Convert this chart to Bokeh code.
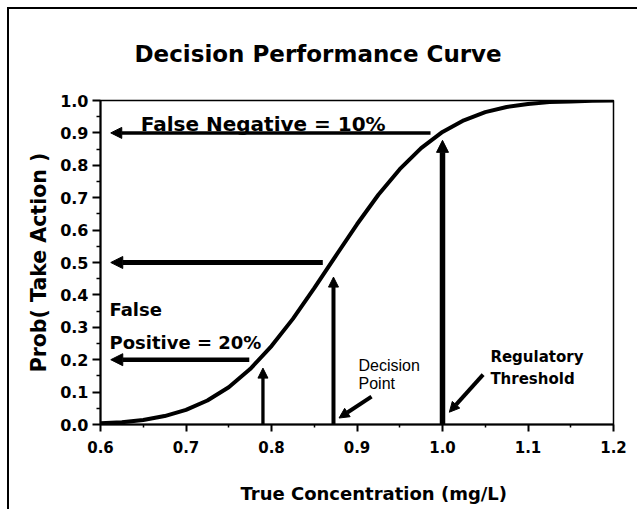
from bokeh.plotting import figure
from bokeh.layouts import column
from bokeh.models import Range1d, Arrow, NormalHead, FixedTicker, PrintfTickFormatter, Title, Label
from bokeh.embed import file_html
from bokeh.resources import INLINE

# ---- data ----
x_conc = [0.600, 0.625, 0.650, 0.675, 0.700, 0.725, 0.750, 0.775, 0.800, 0.825,
          0.850, 0.875, 0.900, 0.925, 0.950, 0.975, 1.000, 1.025, 1.050, 1.075,
          1.100, 1.125, 1.150, 1.175, 1.200]
p_action = [0.004, 0.007, 0.014, 0.026, 0.045, 0.074, 0.115, 0.171, 0.242, 0.326,
            0.421, 0.520, 0.618, 0.709, 0.788, 0.853, 0.903, 0.939, 0.964, 0.980,
            0.989, 0.995, 0.997, 0.999, 1.000]

x_major = [0.6, 0.7, 0.8, 0.9, 1.0, 1.1, 1.2]
x_minor = [0.65, 0.75, 0.85, 0.95, 1.05, 1.15]
y_major = [0.0, 0.1, 0.2, 0.3, 0.4, 0.5, 0.6, 0.7, 0.8, 0.9, 1.0]
y_minor = [0.05, 0.15, 0.25, 0.35, 0.45, 0.55, 0.65, 0.75, 0.85, 0.95]

fn_level = 0.9          # false negative probability at threshold
dp_level = 0.5          # probability at decision point
fp_level = 0.2          # false positive probability
fp_conc = 0.79          # concentration where P = 0.2
decision_point = 0.8725
regulatory_threshold = 1.0

FONT = "DejaVu Sans"

p = figure(frame_width=513, frame_height=324, x_range=Range1d(0.6, 1.2), y_range=Range1d(0, 1),
           output_backend="svg", toolbar_location=None,
           min_border_left=91, min_border_right=24, min_border_top=91, min_border_bottom=85)
p.grid.visible = False
p.outline_line_color = "black"
p.outline_line_width = 1.5
p.background_fill_color = "white"
p.border_fill_color = "white"

p.title = Title(text="Decision Performance Curve", align="left", offset=34, standoff=63,
                vertical_align="top",
                text_font=FONT, text_font_size="23px", text_font_style="bold", text_color="black")

p.xaxis[0].ticker = FixedTicker(ticks=x_major, minor_ticks=x_minor)
p.yaxis[0].ticker = FixedTicker(ticks=y_major, minor_ticks=y_minor)
for ax in (p.xaxis[0], p.yaxis[0]):
    ax.formatter = PrintfTickFormatter(format="%.1f")
    ax.axis_line_width = 2
    ax.axis_line_color = "black"
    ax.major_tick_line_width = 2
    ax.minor_tick_line_width = 1.5
    ax.major_tick_in = 0
    ax.minor_tick_in = 0
    ax.major_label_text_font = FONT
    ax.major_label_text_font_style = "bold"
    ax.major_label_text_color = "black"
    ax.major_tick_line_color = "black"
    ax.minor_tick_line_color = "black"

p.xaxis[0].major_tick_out = 7
p.xaxis[0].minor_tick_out = 3
p.xaxis[0].major_label_text_font_size = "15px"
p.xaxis[0].major_label_standoff = 9
p.yaxis[0].major_tick_out = 8
p.yaxis[0].minor_tick_out = 4
p.yaxis[0].major_label_text_font_size = "16px"
p.yaxis[0].major_label_standoff = 4
p.yaxis[0].axis_label = "Prob( Take Action )"
p.yaxis[0].axis_label_text_font = FONT
p.yaxis[0].axis_label_text_font_size = "20.5px"
p.yaxis[0].axis_label_text_font_style = "bold"
p.yaxis[0].axis_label_text_color = "black"
p.yaxis[0].axis_label_standoff = 6

p.add_layout(Title(text="True Concentration (mg/L)", align="left", offset=140, standoff=50,
                   vertical_align="bottom",
                   text_font=FONT, text_font_size="18px", text_font_style="bold",
                   text_color="black"), "below")

# curve
p.line(x_conc, p_action, line_width=4, color="black")

def arrow(xs, ys, xe, ye, lw, hs):
    p.add_layout(Arrow(end=NormalHead(size=hs, fill_color="black", line_color="black", line_width=1),
                       x_start=xs, y_start=ys, x_end=xe, y_end=ye,
                       line_width=lw, line_color="black"))

# horizontal arrows to the y axis
arrow(0.986, fn_level, 0.612, fn_level, 3.5, 11)
arrow(0.860, dp_level, 0.612, dp_level, 5, 12)
arrow(0.774, fp_level, 0.612, fp_level, 4.5, 12)
# vertical arrows up to the curve
arrow(fp_conc, -0.083, fp_conc, 0.174, 3.3, 10)
arrow(decision_point, -0.025, decision_point, 0.455, 4, 10)
arrow(regulatory_threshold, -0.02, regulatory_threshold, 0.877, 5.5, 12)
# diagonal pointers
arrow(0.917, 0.086, 0.879, 0.020, 4, 10)
arrow(1.0475, 0.154, 1.008, 0.038, 4, 10)

def label(x, y, text, size, bold=True, font=FONT):
    p.add_layout(Label(x=x, y=y, text=text, text_font=font, text_font_size=size,
                       text_font_style="bold" if bold else "normal", text_color="black",
                       text_align="left", text_baseline="alphabetic"))

label(0.647, 0.929, "False Negative = 10%", "20px")
label(0.6105, 0.355, "False", "18px")
label(0.6105, 0.253, "Positive = 20%", "18px")
label(0.9018, 0.182, "Decision", "16px", bold=False, font="Liberation Sans")
label(0.9018, 0.1265, "Point", "16px", bold=False, font="Liberation Sans")
label(1.056, 0.207, "Regulatory", "15px")
label(1.056, 0.139, "Threshold", "15px")

page = column(p, styles={"margin-left": "7px", "margin-top": "7px",
                         "border-left": "2px solid black", "border-top": "2px solid black"})

open("out.html", "w").write(file_html(page, INLINE))
